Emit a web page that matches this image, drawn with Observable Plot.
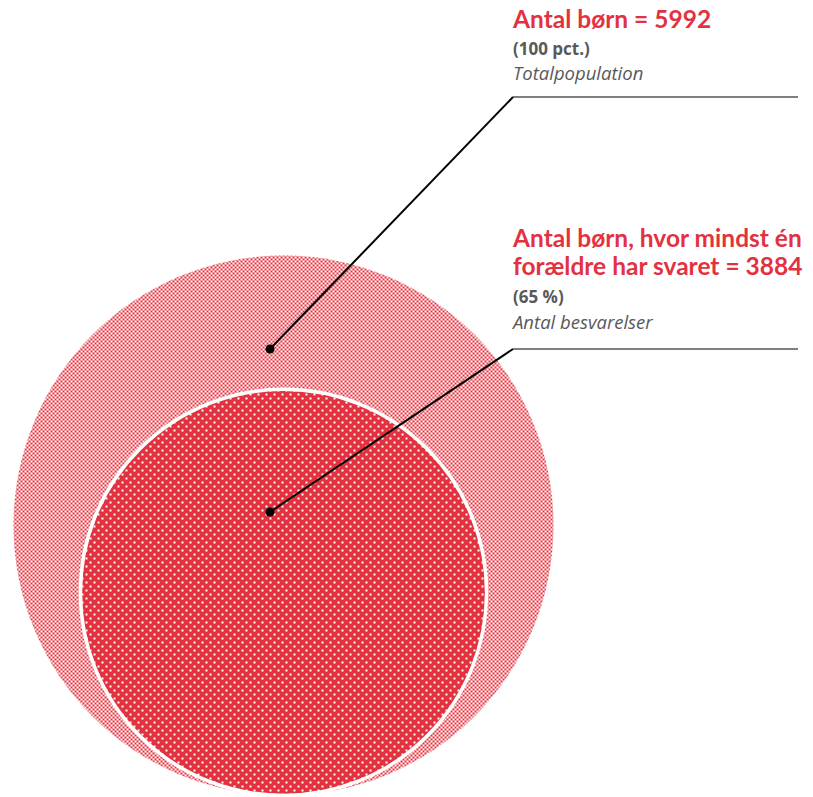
<!DOCTYPE html>
<html>
<head>
<meta charset="utf-8">
<script src="https://cdn.jsdelivr.net/npm/d3@7"></script>
<script src="https://cdn.jsdelivr.net/npm/@observablehq/plot@0.6"></script>
<style>
  html, body { margin: 0; padding: 0; background: #fff; }
</style>
</head>
<body>
<div id="chart"></div>
<script>
// ---- data ----
const groups = ["Totalpopulation", "Antal besvarelser"];
const counts = [5992, 3884];
const shares = ["(100 pct.)", "(65 %)"];
const titles = [["Antal børn = 5992"], ["Antal børn, hvor mindst én", "forældre har svaret = 3884"]];

const rows = groups.map((g, i) => ({group: g, count: counts[i]}));

const RED = "#E3323F";
const W = 813, H = 797;
const EXP = 0.657;

function defsMark() {
  const defs = d3.create("svg:defs");
  const p1 = defs.append("pattern").attr("id", "checker")
    .attr("patternUnits", "userSpaceOnUse").attr("width", 4).attr("height", 4);
  p1.append("rect").attr("x", 0).attr("y", 0).attr("width", 2).attr("height", 2).attr("fill", RED);
  p1.append("rect").attr("x", 2).attr("y", 2).attr("width", 2).attr("height", 2).attr("fill", RED);
  const p2 = defs.append("pattern").attr("id", "dots")
    .attr("patternUnits", "userSpaceOnUse").attr("width", 8).attr("height", 8);
  p2.append("rect").attr("width", 8).attr("height", 8).attr("fill", RED);
  p2.append("rect").attr("x", 1).attr("y", 1).attr("width", 2).attr("height", 2).attr("fill", "#fff");
  p2.append("rect").attr("x", 5).attr("y", 5).attr("width", 2).attr("height", 2).attr("fill", "#fff");
  return defs.node();
}

// annotation layout (pixel positions of label blocks)
const anno = [
  {dot: [270, 349], elbow: [513, 97], end: 798, lines: [28], share: 55, sub: 80},
  {dot: [270, 512], elbow: [513, 349], end: 798, lines: [247, 275], share: 303, sub: 329}
];

function annotationMark() {
  const g = d3.create("svg:g").attr("text-anchor", "start");
  anno.forEach((a, i) => {
    g.append("line").attr("x1", a.elbow[0]).attr("y1", a.elbow[1]).attr("x2", a.end).attr("y2", a.elbow[1])
      .attr("stroke", "#555").attr("stroke-width", 1.5);
    g.append("line").attr("x1", a.dot[0]).attr("y1", a.dot[1]).attr("x2", a.elbow[0]).attr("y2", a.elbow[1])
      .attr("stroke", "#000").attr("stroke-width", 2);
    g.append("circle").attr("cx", a.dot[0]).attr("cy", a.dot[1]).attr("r", 4.5).attr("fill", "#000");
    titles[i].forEach((t, j) => {
      g.append("text").attr("x", 513).attr("y", a.lines[j]).text(t)
        .attr("fill", RED).attr("font-weight", "bold").attr("font-size", 24.5)
        .attr("font-family", "Lato, 'Open Sans', sans-serif");
    });
    g.append("text").attr("x", 513).attr("y", a.share).text(shares[i])
      .attr("fill", "#595959").attr("font-weight", "bold").attr("font-size", 17)
      .attr("font-family", "'Open Sans', sans-serif");
    g.append("text").attr("x", 513).attr("y", a.sub).text(groups[i])
      .attr("fill", "#595959").attr("font-style", "italic").attr("font-size", 18.5)
      .attr("font-family", "'Open Sans', sans-serif");
  });
  return g.node();
}

const chart = Plot.plot({
  width: W,
  height: H,
  margin: 0,
  style: {background: "#fff"},
  x: {type: "point", domain: ["alle"], range: [283, 283], axis: null},
  y: {type: "pow", exponent: EXP, domain: [0, 5992], range: [795, 525], axis: null},
  r: {type: "pow", exponent: EXP, domain: [0, 5992], range: [0, 270]},
  marks: [
    defsMark,
    Plot.dot(rows.slice(0, 1), {x: () => "alle", y: "count", r: "count", fill: "url(#checker)", stroke: "none"}),
    Plot.dot(rows.slice(1), {x: () => "alle", y: "count", r: "count", fill: "url(#dots)", stroke: "#fff", strokeWidth: 3.5}),
    annotationMark
  ]
});
document.getElementById("chart").appendChild(chart);
</script>
</body>
</html>
